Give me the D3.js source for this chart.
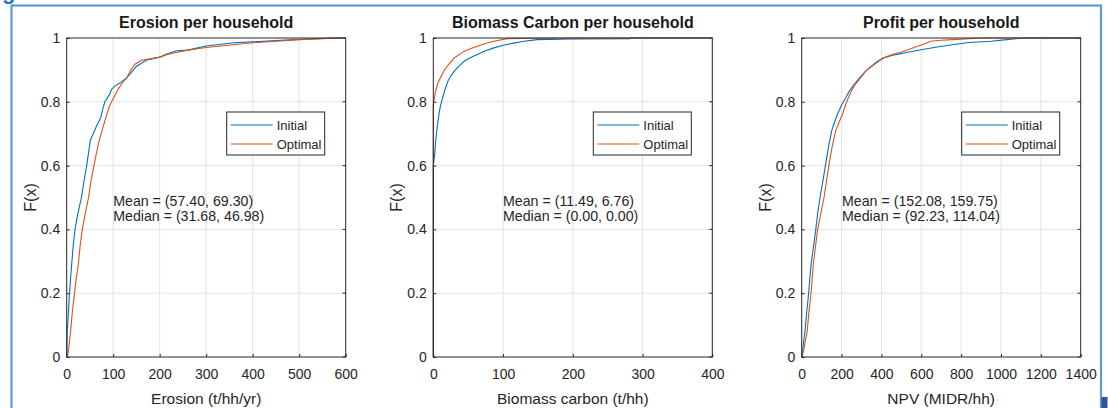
<!DOCTYPE html>
<html>
<head>
<meta charset="utf-8">
<script src="https://cdn.jsdelivr.net/npm/d3@7"></script>
<style>
  html, body { margin: 0; padding: 0; background: #fff; }
  svg { display: block; font-family: "Liberation Sans", Arial, sans-serif; }
  .tick text { fill: #262626; }
</style>
</head>
<body>
<div id="chart"></div>
<script>
const panelTitles = ["Erosion per household", "Biomass Carbon per household", "Profit per household"];
const xLabels = ["Erosion (t/hh/yr)", "Biomass carbon (t/hh)", "NPV (MIDR/hh)"];
const xTicksErosion = [0, 100, 200, 300, 400, 500, 600];
const xTicksBiomass = [0, 100, 200, 300, 400];
const xTicksProfit = [0, 200, 400, 600, 800, 1000, 1200, 1400];
const yTicks = [0, 0.2, 0.4, 0.6, 0.8, 1];
const seriesNames = ["Initial", "Optimal"];
const meanTexts = ["Mean = (57.40, 69.30)", "Mean = (11.49, 6.76)", "Mean = (152.08, 159.75)"];
const medianTexts = ["Median = (31.68, 46.98)", "Median = (0.00, 0.00)", "Median = (92.23, 114.04)"];

const erosionInitial = [[0,0],[0.5,0.02],[1,0.08],[3,0.12],[5.7,0.19],[8,0.24],[10.7,0.29],[14,0.35],[17.9,0.40],[24,0.45],[31.7,0.5],[37,0.55],[43,0.6],[47,0.64],[51,0.68],[57,0.70],[63,0.72],[73,0.75],[78,0.78],[82,0.8],[91,0.82],[97,0.84],[104,0.85],[115,0.86],[129,0.875],[138,0.89],[149,0.91],[160,0.92],[171,0.93],[200,0.94],[215,0.95],[236,0.96],[260,0.962],[300,0.975],[360,0.985],[490,0.995],[575,1],[600,1]];
const erosionOptimal = [[0,0],[3,0.01],[6,0.05],[8.6,0.083],[12,0.14],[16,0.19],[20,0.24],[25,0.29],[29,0.35],[33.6,0.4],[40,0.45],[47,0.5],[52,0.55],[58.6,0.6],[64,0.64],[70,0.68],[78,0.72],[86,0.76],[93,0.79],[100,0.81],[111,0.84],[120,0.86],[129,0.875],[138,0.9],[146,0.917],[161,0.93],[200,0.94],[220,0.95],[260,0.962],[300,0.97],[400,0.985],[500,0.995],[590,1],[600,1]];

const biomassInitial = [[0,0],[0,0.6],[2,0.635],[3.5,0.68],[5,0.71],[8,0.76],[10,0.785],[13,0.81],[17,0.84],[21,0.865],[25,0.88],[30,0.896],[37,0.912],[44,0.927],[53,0.938],[63,0.948],[75,0.96],[87,0.969],[100,0.977],[115,0.984],[130,0.99],[149,0.995],[200,0.997],[282,0.998],[283,1],[400,1]];
const biomassOptimal = [[0,0],[0,0.79],[1.5,0.81],[3,0.83],[6,0.855],[10,0.875],[14,0.892],[18,0.906],[24,0.922],[30,0.9375],[37,0.948],[44,0.958],[53,0.966],[63,0.974],[75,0.983],[87,0.99],[106,0.998],[150,0.999],[196,1],[400,1]];

const profitInitial = [[0,0],[5,0.02],[10,0.05],[17,0.083],[25,0.14],[33,0.1875],[40,0.24],[47,0.29],[58,0.34],[70,0.396],[80,0.45],[92,0.5],[106,0.55],[120,0.604],[135,0.66],[150,0.708],[164,0.735],[179,0.76],[200,0.79],[221,0.8125],[240,0.835],[263,0.854],[290,0.875],[321,0.896],[363,0.917],[408,0.9375],[472,0.948],[540,0.956],[605,0.964],[680,0.972],[756,0.979],[839,0.986],[950,0.99],[1030,0.995],[1110,1],[1400,1]];
const profitOptimal = [[0,0],[10,0.02],[18,0.05],[28,0.083],[36,0.14],[45,0.1875],[52,0.24],[58,0.29],[68,0.34],[79,0.396],[96,0.45],[112,0.5],[124,0.55],[137,0.604],[153,0.66],[170,0.708],[187,0.735],[204,0.76],[220,0.79],[234,0.8125],[250,0.835],[268,0.854],[295,0.875],[321,0.896],[350,0.912],[380,0.927],[420,0.94],[455,0.948],[500,0.956],[538,0.964],[570,0.972],[605,0.979],[647,0.99],[700,0.993],[756,0.995],[900,1],[1400,1]];

// ---- layout ----
const W = 1108, H = 408;
const plotTop = 38, plotBottom = 357, plotW = 279;
const plotLefts = [66.7, 433.3, 801.7];
const colors = ["#0072BD", "#D95319"];
const FONT = "Liberation Sans, Arial, sans-serif";

const panels = [
  { ticks: xTicksErosion, series: [erosionInitial, erosionOptimal] },
  { ticks: xTicksBiomass, series: [biomassInitial, biomassOptimal] },
  { ticks: xTicksProfit, series: [profitInitial, profitOptimal] }
];

const svg = d3.select("#chart").append("svg")
  .attr("width", W)
  .attr("height", H);

svg.append("rect").attr("width", W).attr("height", H).attr("fill", "#fff");

// figure frame (cropped from a document)
svg.append("rect")
  .attr("x", 11.5).attr("y", 5.5)
  .attr("width", 1089.5).attr("height", 420)
  .attr("fill", "none")
  .attr("stroke", "#5B9BD5")
  .attr("stroke-width", 2.2);
svg.append("text")
  .attr("x", 2).attr("y", -1)
  .attr("font-size", 22).attr("font-weight", "bold")
  .attr("fill", "#2E74B5")
  .text("g");
svg.append("rect")
  .attr("x", 1101.5).attr("y", 397)
  .attr("width", 6).attr("height", 12)
  .attr("fill", "#2F5597");

panels.forEach((p, i) => {
  const left = plotLefts[i];
  const x = d3.scaleLinear()
    .domain([p.ticks[0], p.ticks[p.ticks.length - 1]])
    .range([left, left + plotW]);
  const y = d3.scaleLinear().domain([0, 1]).range([plotBottom, plotTop]);

  const g = svg.append("g");

  // grid
  g.append("g").selectAll("line.vg")
    .data(p.ticks.slice(1, -1))
    .join("line")
    .attr("x1", d => x(d)).attr("x2", d => x(d))
    .attr("y1", plotTop).attr("y2", plotBottom)
    .attr("stroke", "#e3e3e3").attr("stroke-width", 1);
  g.append("g").selectAll("line.hg")
    .data(yTicks.slice(1, -1))
    .join("line")
    .attr("x1", left).attr("x2", left + plotW)
    .attr("y1", d => y(d)).attr("y2", d => y(d))
    .attr("stroke", "#e3e3e3").attr("stroke-width", 1);

  // axes
  g.append("g")
    .attr("transform", `translate(0,${plotBottom})`)
    .call(d3.axisBottom(x).tickValues(p.ticks).tickSize(-3).tickPadding(12.5).tickFormat(d3.format("d")))
    .call(a => a.select(".domain").remove())
    .call(a => a.selectAll("line").attr("stroke", "#262626"))
    .call(a => a.selectAll("text").attr("font-size", 14).attr("font-family", FONT));
  g.append("g")
    .attr("transform", `translate(${left},0)`)
    .call(d3.axisLeft(y).tickValues(yTicks).tickSize(-3).tickPadding(6.5).tickFormat(d => d === 0 || d === 1 ? d3.format("d")(d) : d3.format(".1f")(d)))
    .call(a => a.select(".domain").remove())
    .call(a => a.selectAll("line").attr("stroke", "#262626"))
    .call(a => a.selectAll("text").attr("font-size", 14).attr("font-family", FONT));
  // right-side ticks
  g.append("g").selectAll("line")
    .data(yTicks)
    .join("line")
    .attr("x1", left + plotW).attr("x2", left + plotW - 3)
    .attr("y1", d => y(d)).attr("y2", d => y(d))
    .attr("stroke", "#262626");

  // curves
  const line = d3.line().x(d => x(d[0])).y(d => y(d[1]));
  p.series.forEach((s, k) => {
    g.append("path")
      .datum(s)
      .attr("d", line)
      .attr("fill", "none")
      .attr("stroke", colors[k])
      .attr("stroke-width", 1.1)
      .attr("stroke-linejoin", "round");
  });

  // box
  g.append("rect")
    .attr("x", left).attr("y", plotTop)
    .attr("width", plotW).attr("height", plotBottom - plotTop)
    .attr("fill", "none")
    .attr("stroke", "#262626")
    .attr("stroke-width", 1);

  // title
  g.append("text")
    .attr("x", left + plotW / 2).attr("y", 28)
    .attr("text-anchor", "middle")
    .attr("font-size", 16).attr("font-weight", "bold")
    .attr("fill", "#1a1a1a")
    .text(panelTitles[i]);

  // labels
  g.append("text")
    .attr("x", left + plotW / 2).attr("y", 404)
    .attr("text-anchor", "middle")
    .attr("font-size", 15.5)
    .attr("fill", "#262626")
    .text(xLabels[i]);
  g.append("text")
    .attr("transform", `translate(${left - 31},${(plotTop + plotBottom) / 2}) rotate(-90)`)
    .attr("text-anchor", "middle")
    .attr("font-size", 16)
    .attr("fill", "#262626")
    .text("F(x)");

  // stats annotation
  const ax = left + [46.5, 69.7, 40.3][i];
  g.append("text").attr("x", ax).attr("y", 205.5)
    .attr("font-size", 14.2).attr("fill", "#262626").text(meanTexts[i]);
  g.append("text").attr("x", ax).attr("y", 220.5)
    .attr("font-size", 14.2).attr("fill", "#262626").text(medianTexts[i]);

  // legend
  const lx = left + plotW - 119, ly = 112;
  const leg = g.append("g");
  leg.append("rect")
    .attr("x", lx).attr("y", ly)
    .attr("width", 98).attr("height", 43)
    .attr("fill", "#fff")
    .attr("stroke", "#262626")
    .attr("stroke-width", 1);
  seriesNames.forEach((n, k) => {
    const yy = ly + 13 + k * 19;
    leg.append("line")
      .attr("x1", lx + 4).attr("x2", lx + 46)
      .attr("y1", yy).attr("y2", yy)
      .attr("stroke", colors[k]).attr("stroke-width", 1.1);
    leg.append("text")
      .attr("x", lx + 50).attr("y", yy + 4.8)
      .attr("font-size", 13).attr("fill", "#262626")
      .text(n);
  });
});
</script>
</body>
</html>
